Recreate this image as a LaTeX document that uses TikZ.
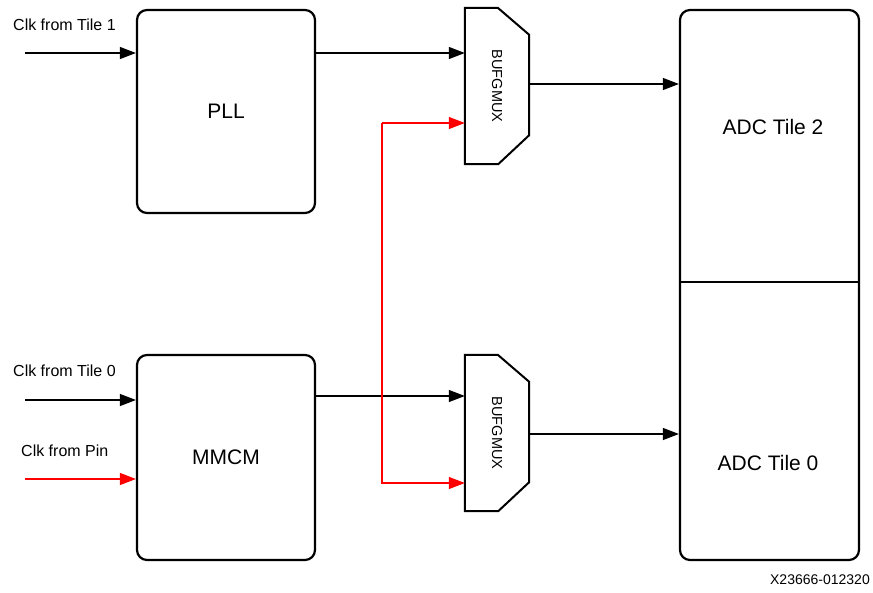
\documentclass[tikz,border=0pt]{standalone}
\usepackage{fontspec}
\setmainfont{Liberation Sans}
\usetikzlibrary{positioning,arrows.meta}

\begin{document}
\begin{tikzpicture}[x=1pt,y=-1pt,
    blk/.style={draw,line width=2.2pt,rounded corners=10pt,minimum width=178pt,inner sep=0pt,font=\fontsize{21}{24}\selectfont},
    mux/.style={minimum width=64pt,minimum height=156pt,inner sep=0pt,font=\fontsize{14.5}{16}\selectfont},
    sig/.style={line width=1.2pt,-{Triangle[length=16pt,width=12pt]}},
    lbl/.style={anchor=west,inner sep=0pt,font=\fontsize{16}{18}\selectfont}]
        \useasboundingbox (0,0) rectangle (873,592);
        % blocks
        \node[blk,minimum height=203pt] (pll) at (226,111.5) {PLL};
        \node[blk,minimum height=205pt] (mmcm) at (226,457.5) {MMCM};
        \node[blk,minimum width=179pt,minimum height=550pt] (adc) at (769.5,285) {};
        \draw[line width=2.2pt] (adc.west |- 0,282) -- (adc.east |- 0,282);
        \node[font=\fontsize{21}{24}\selectfont] (adc2) at (773,127) {ADC Tile 2};
        \node[font=\fontsize{21}{24}\selectfont] (adc0) at (768,463) {ADC Tile 0};
        % muxes
        \node[mux] (mux1) at (497,86) {\rotatebox{-90}{BUFGMUX}};
        \node[mux] (mux0) at (497,433) {\rotatebox{-90}{BUFGMUX}};
        \foreach \m in {mux1,mux0}
            \draw[line width=2pt,line join=miter] (\m.north west) -- ([xshift=33pt]\m.north west)
                -- ([yshift=-27pt]\m.north east) -- ([yshift=29pt]\m.south east)
                -- ([xshift=-31pt]\m.south east) -- (\m.south west) -- cycle;
        % inputs
        \node[lbl] (l1) at (13,25) {Clk from Tile 1};
        \node[lbl] (l0) at (13,371) {Clk from Tile 0};
        \node[lbl] (lp) at (21,451) {Clk from Pin};
        \coordinate (t1) at (25,53);
        \coordinate (t0) at (25,400);
        \coordinate (pin) at (25,479);
        \draw[sig] (t1) -- (pll.west |- t1);
        \draw[sig] (t0) -- (mmcm.west |- t0);
        \draw[sig,red] (pin) -- (mmcm.west |- pin);
        % clocks to muxes
        \draw[sig] (pll.east |- 0,53) -- (mux1.west |- 0,53);
        \draw[sig] (mmcm.east |- 0,396) -- (mux0.west |- 0,396);
        \coordinate (rtop) at (382,123);
        \coordinate (rbot) at (382,483);
        \draw[sig,red] (rtop) -- (mux1.west |- rtop);
        \draw[sig,red] (rtop) -- (rbot) -- (mux0.west |- rbot);
        % outputs
        \draw[sig] (mux1.east |- 0,84) -- (adc.west |- 0,84);
        \draw[sig] (mux0.east |- 0,434) -- (adc.west |- 0,434);
        \node[anchor=east,inner sep=0pt,font=\fontsize{14}{16}\selectfont] (id) at (870,580) {X23666-012320};
\end{tikzpicture}
\end{document}
